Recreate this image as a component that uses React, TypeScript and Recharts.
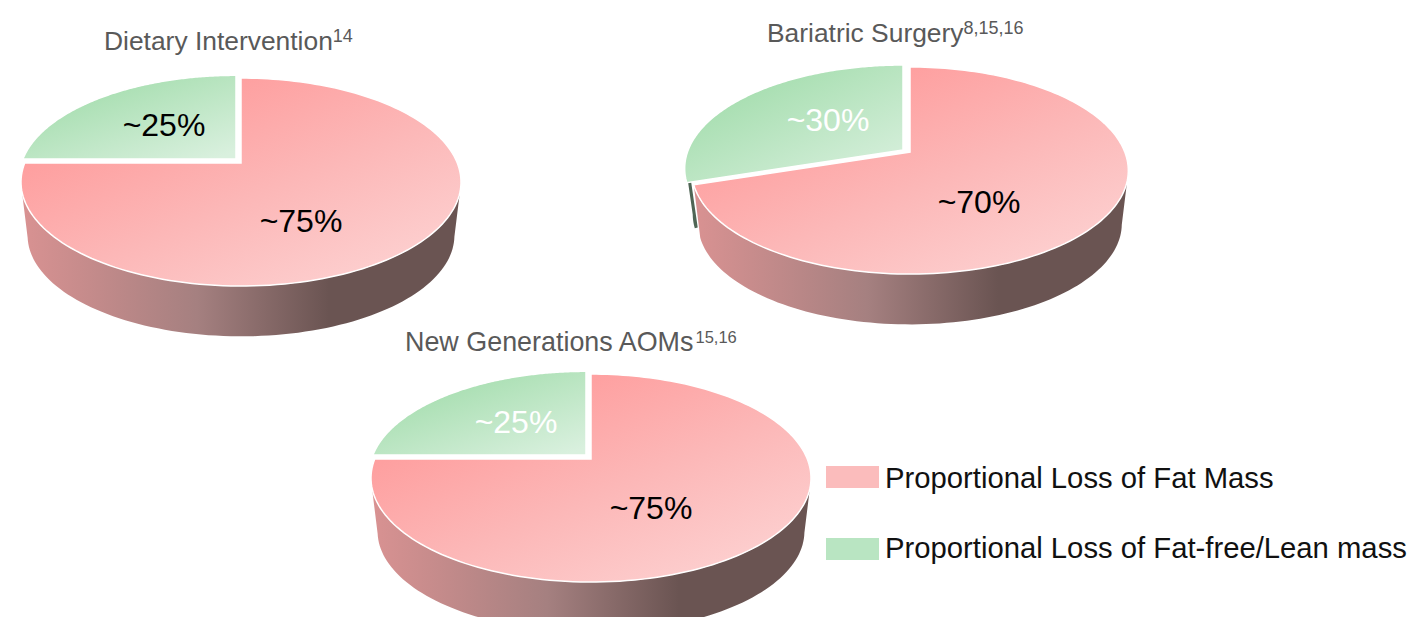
import { PieChart, Pie } from 'recharts';

const WIDTH = 1408;
const HEIGHT = 617;

const categories = ['Proportional Loss of Fat Mass', 'Proportional Loss of Fat-free/Lean mass'];
const dietaryValues = [75, 25];
const surgeryValues = [70, 30];
const aomValues = [75, 25];

const dietaryLabels = ['~75%', '~25%'];
const surgeryLabels = ['~70%', '~30%'];
const aomLabels = ['~75%', '~25%'];

const toRows = (values: number[]) => values.map((value, i) => ({ name: categories[i], value }));

// apex = centre of the red slice, the green one is pulled out by greenShift
const PIES = [
  {
    id: 'dietary', values: dietaryValues, cx: 241, cy: 163, radius: 216.3, near: 100.5, k: -0.183, greenShift: [-5, -4], greenScale: 0.985,
    title: 'Dietary Intervention', refs: '14', titleX: 104, titleY: 26, titleSize: 26.4, refSize: 18,
    labels: dietaryLabels, labelAt: [[301, 221], [164, 125]], labelColors: ['#000', '#000'],
  },
  {
    id: 'surgery', values: surgeryValues, cx: 910, cy: 152, radius: 214.8, near: 100.2, k: -0.179, greenShift: [-7, -2], greenScale: 1,
    title: 'Bariatric Surgery', refs: '8,15,16', titleX: 767, titleY: 18, titleSize: 26.4, refSize: 18,
    labels: surgeryLabels, labelAt: [[979, 202], [828, 120]], labelColors: ['#000', '#fff'],
  },
  {
    id: 'aom', values: aomValues, cx: 591, cy: 459, radius: 216.3, near: 100.5, k: -0.183, greenShift: [-5, -4], greenScale: 0.985,
    title: 'New Generations AOMs', refs: '15,16', titleX: 405, titleY: 327, titleSize: 26.9, refSize: 16.5,
    labels: aomLabels, labelAt: [[651, 508], [516, 422]], labelColors: ['#000', '#fff'],
  },
];

const WALL_DEPTH = 54;
const WALL_SCALE = 0.97;
const RAD = Math.PI / 180;

type Geo = { near: number; k: number; greenShift: number[]; greenScale: number };

function project(props: any, geo: Geo, deg: number, scale = 1, dx = 0, dy = 0) {
  const u = Math.cos(deg * RAD);
  const v = -Math.sin(deg * RAD);
  const w = 1 + geo.k * v;
  return [
    props.cx + dx + (scale * props.outerRadius * u) / w,
    props.cy + dy + (scale * geo.near * v) / w,
  ];
}

function anglesOf(props: any) {
  const out: number[] = [];
  const steps = 160;
  for (let i = 0; i <= steps; i++) out.push(props.startAngle + ((props.endAngle - props.startAngle) * i) / steps);
  return out;
}

const toPath = (pts: number[][]) =>
  pts.map((p, i) => `${i ? 'L' : 'M'}${p[0].toFixed(2)},${p[1].toFixed(2)}`).join(' ') + ' Z';

function faceShape(geo: Geo) {
  return (props: any, index?: number) => {
    const isGreen = props.payload?.name === categories[1] || index === 1;
    const [dx, dy] = isGreen ? geo.greenShift : [0, 0];
    const scale = isGreen ? geo.greenScale : 1;
    const arc = anglesOf(props).map(a => project(props, geo, a, scale, dx, dy));
    const pts = [[props.cx + dx, props.cy + dy], ...arc];
    return <path d={toPath(pts)} fill={isGreen ? 'url(#greenFace)' : 'url(#redFace)'} stroke="#fff" strokeWidth={1.5} />;
  };
}

function wallShape(geo: Geo) {
  return (props: any, index?: number) => {
    const isGreen = props.payload?.name === categories[1] || index === 1;
    const [dx, dy] = isGreen ? geo.greenShift : [0, 0];
    // only the part of the rim that faces the viewer has a wall
    const front = anglesOf(props).filter(a => -Math.sin(a * RAD) >= -geo.k);
    if (front.length < 2) return <g />;
    const wallDx = isGreen ? dx + 3 : dx;
    const depth = isGreen ? WALL_DEPTH - 8 : WALL_DEPTH;
    const bottom = front.map(a => project(props, geo, a, WALL_SCALE, wallDx, dy + depth));
    const top = front.map(a => project(props, geo, a, 1, wallDx, dy)).reverse();
    return (
      <path
        d={toPath([...bottom, ...top])}
        fill={isGreen ? '#4f6555' : 'url(#redWall)'}
        stroke={isGreen ? '#4f6555' : 'none'}
        strokeWidth={isGreen ? 3 : 0}
      />
    );
  };
}

export default function App() {
  return (
    <div style={{ position: 'absolute', left: 0, top: 0, width: WIDTH, height: HEIGHT, overflow: 'hidden', background: '#fff', fontFamily: '"Liberation Sans", Arial, sans-serif' }}>
      <PieChart width={WIDTH} height={HEIGHT} margin={{ top: 0, right: 0, bottom: 0, left: 0 }}>
        <defs>
          <linearGradient id="redFace" x1="0.05" y1="0.1" x2="0.85" y2="1">
            <stop offset="0" stopColor="#ff9494" />
            <stop offset="0.55" stopColor="#fcb7b7" />
            <stop offset="1" stopColor="#fdd2d2" />
          </linearGradient>
          <linearGradient id="greenFace" x1="0.1" y1="0.1" x2="0.9" y2="1">
            <stop offset="0" stopColor="#9edba8" />
            <stop offset="1" stopColor="#d9f0de" />
          </linearGradient>
          <linearGradient id="redWall" x1="0" y1="0" x2="1" y2="0">
            <stop offset="0" stopColor="#d99292" />
            <stop offset="0.4" stopColor="#a58080" />
            <stop offset="0.7" stopColor="#6a5452" />
            <stop offset="1" stopColor="#6a5452" />
          </linearGradient>
        </defs>
        {PIES.map(p => (
          <Pie
            key={p.id + '-wall'}
            data={toRows(p.values)}
            dataKey="value"
            cx={p.cx}
            cy={p.cy}
            innerRadius={0}
            outerRadius={p.radius}
            startAngle={90}
            endAngle={-270}
            stroke="none"
            isAnimationActive={false}
            shape={wallShape(p)}
          />
        ))}
        {PIES.map(p => (
          <Pie
            key={p.id + '-face'}
            data={toRows(p.values)}
            dataKey="value"
            cx={p.cx}
            cy={p.cy}
            innerRadius={0}
            outerRadius={p.radius}
            startAngle={90}
            endAngle={-270}
            isAnimationActive={false}
            shape={faceShape(p)}
          />
        ))}
      </PieChart>

      {PIES.map(p => (
        <div key={p.id + '-title'} style={{ position: 'absolute', left: p.titleX, top: p.titleY, fontSize: p.titleSize, lineHeight: '30px', color: '#595959', whiteSpace: 'nowrap' }}>
          {p.title}
          <span style={{ fontSize: p.refSize, position: 'relative', top: -8.5, marginLeft: p.id === 'aom' ? 2 : 0 }}>{p.refs}</span>
        </div>
      ))}

      {PIES.map(p =>
        p.labels.map((text, i) => (
          <div key={p.id + text + i} style={{ position: 'absolute', left: p.labelAt[i][0] - 60, top: p.labelAt[i][1] - 20, width: 120, textAlign: 'center', fontSize: 32, lineHeight: '40px', color: p.labelColors[i] }}>
            {text}
          </div>
        ))
      )}

      {categories.map((name, i) => (
        <div key={name}>
          <div style={{ position: 'absolute', left: 826, top: i ? 538 : 466, width: 53, height: 22, background: i ? '#b9e5c2' : '#fbbcbc' }} />
          <div style={{ position: 'absolute', left: 885, top: i ? 531 : 461, fontSize: 29.25, lineHeight: '34px', color: '#111', whiteSpace: 'nowrap' }}>{name}</div>
        </div>
      ))}
    </div>
  );
}
